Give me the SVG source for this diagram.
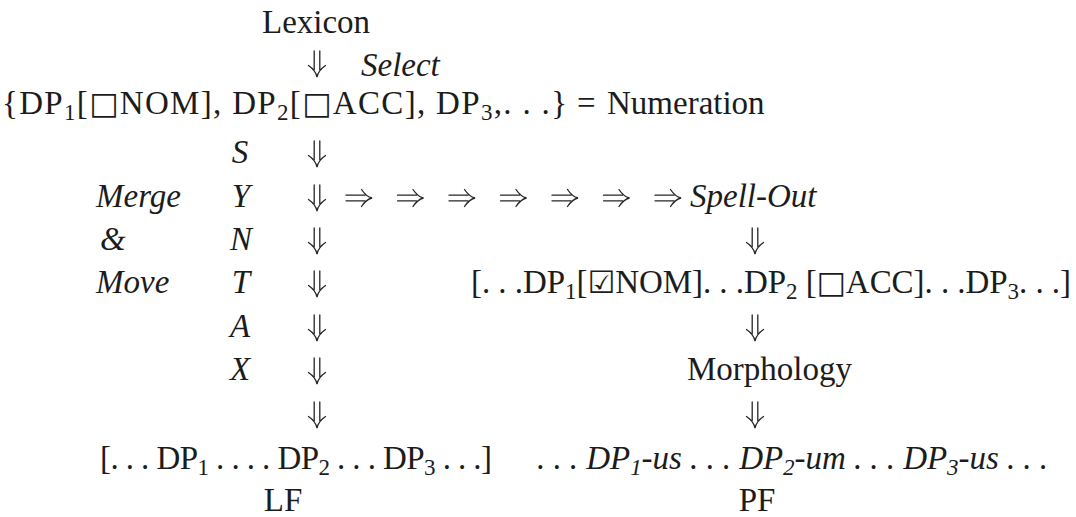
<svg xmlns="http://www.w3.org/2000/svg" width="1076" height="517" viewBox="0 0 1076 517">
  <defs>
    <style>
      text { font-family: "Liberation Serif", "Times New Roman", serif; font-size: 33px; fill: #1c1c1c; }
      .it { font-style: italic; }
      .mid { text-anchor: middle; }
      .sub { font-size: 23px; }
      .box { font-family: "DejaVu Sans", sans-serif; font-size: 31px; }
      .arr { fill: none; stroke: #262626; stroke-width: 1.3; stroke-linecap: round; }
    </style>
    <!-- double-shafted down arrow, origin at top centre -->
    <g id="dn">
      <path class="arr" d="M-2.8,0 V19 M2.8,0 V19 M-8.5,14.5 C-4,17.5 -1.2,20.5 0,26 C1.2,20.5 4,17.5 8.5,14.5"/>
    </g>
    <!-- double-shafted right arrow, origin at left middle -->
    <g id="rt">
      <path class="arr" d="M0,-2.8 H19 M0,2.8 H19 M15.5,-8.5 C18.5,-4 21,-1.2 26,0 C21,1.2 18.5,4 15.5,8.5"/>
    </g>
  </defs>
  <rect width="1076" height="517" fill="#ffffff"/>

  <g id="lexicon"><text x="262" y="33">Lexicon</text></g>
  <g id="select"><text class="it" x="361" y="76">Select</text></g>

  <g id="numeration">
    <text x="2" y="114" textLength="565" lengthAdjust="spacing">{DP<tspan class="sub" dy="6">1</tspan><tspan dy="-6">[</tspan><tspan class="box">□</tspan>NOM], DP<tspan class="sub" dy="6">2</tspan><tspan dy="-6">[</tspan><tspan class="box">□</tspan>ACC], DP<tspan class="sub" dy="6">3</tspan><tspan dy="-6">,. . .}</tspan></text>
    <text x="577" y="114">=</text>
    <text x="607" y="114">Numeration</text>
  </g>

  <g id="syntax-label">
    <text class="it mid" x="240" y="163">S</text>
    <text class="it mid" x="241" y="207">Y</text>
    <text class="it mid" x="241" y="250">N</text>
    <text class="it mid" x="241" y="293">T</text>
    <text class="it mid" x="240" y="337">A</text>
    <text class="it mid" x="240" y="380">X</text>
  </g>

  <g id="merge-move">
    <text class="it" x="96" y="207">Merge</text>
    <text class="it" x="100" y="250">&amp;</text>
    <text class="it" x="96" y="293">Move</text>
  </g>

  <g id="spell-out"><text class="it" x="690" y="207">Spell-Out</text></g>

  <g id="spelled-structure">
    <text x="471" y="293" textLength="600" lengthAdjust="spacing">[. . .DP<tspan class="sub" dy="6">1</tspan><tspan dy="-6">[</tspan><tspan class="box">☑</tspan>NOM]. . .DP<tspan class="sub" dy="6">2</tspan><tspan dy="-6"> [</tspan><tspan class="box">□</tspan>ACC]. . .DP<tspan class="sub" dy="6">3</tspan><tspan dy="-6">. . .]</tspan></text>
  </g>

  <g id="morphology"><text x="687" y="380">Morphology</text></g>

  <g id="lf-structure">
    <text x="100" y="469" textLength="392" lengthAdjust="spacing">[. . . DP<tspan class="sub" dy="6">1</tspan><tspan dy="-6"> . . . . DP</tspan><tspan class="sub" dy="6">2</tspan><tspan dy="-6"> . . . DP</tspan><tspan class="sub" dy="6">3</tspan><tspan dy="-6"> . . .]</tspan></text>
  </g>
  <g id="pf-structure">
    <text class="it" x="537" y="469" textLength="511" lengthAdjust="spacing">. . . DP<tspan class="sub" dy="6">1</tspan><tspan dy="-6">-us . . . DP</tspan><tspan class="sub" dy="6">2</tspan><tspan dy="-6">-um . . . DP</tspan><tspan class="sub" dy="6">3</tspan><tspan dy="-6">-us . . .</tspan></text>
  </g>

  <g id="lf"><text class="mid" x="283" y="511">LF</text></g>
  <g id="pf"><text class="mid" x="757" y="511">PF</text></g>

  <g id="connectors">
    <!-- Lexicon to Numeration -->
    <use href="#dn" x="317" y="51"/>
    <!-- syntax column -->
    <use href="#dn" x="317" y="141"/>
    <use href="#dn" x="317" y="185"/>
    <use href="#dn" x="317" y="228"/>
    <use href="#dn" x="317" y="271"/>
    <use href="#dn" x="317" y="315"/>
    <use href="#dn" x="317" y="358"/>
    <use href="#dn" x="317" y="402"/>
    <!-- branch to Spell-Out -->
    <use href="#rt" x="346" y="198"/>
    <use href="#rt" x="397.5" y="198"/>
    <use href="#rt" x="449" y="198"/>
    <use href="#rt" x="500.5" y="198"/>
    <use href="#rt" x="552" y="198"/>
    <use href="#rt" x="603.5" y="198"/>
    <use href="#rt" x="655" y="198"/>
    <!-- PF column -->
    <use href="#dn" x="755" y="228"/>
    <use href="#dn" x="755" y="315"/>
    <use href="#dn" x="755" y="402"/>
  </g>
</svg>
